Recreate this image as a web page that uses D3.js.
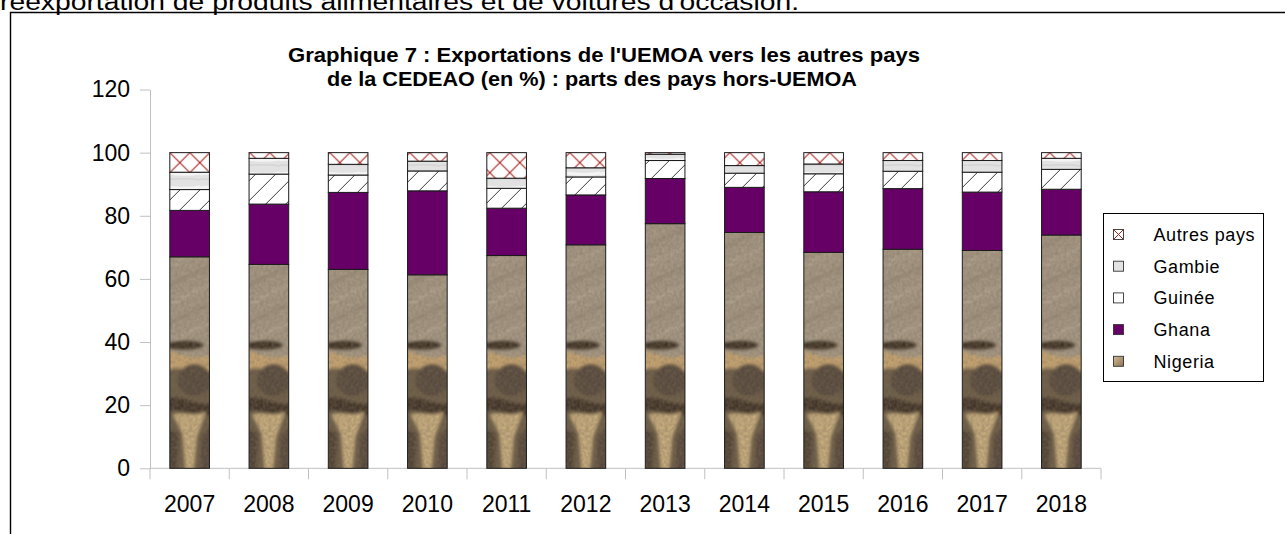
<!DOCTYPE html>
<html>
<head>
<meta charset="utf-8">
<script src="https://cdn.jsdelivr.net/npm/d3@7/dist/d3.min.js"></script>
<style>
    html, body { margin: 0; padding: 0; background: #fff; }
    svg { display: block; font-family: 'Liberation Sans', Arial, sans-serif; }
</style>
</head>
<body>
<svg id="chart" width="1285" height="534"></svg>
<script>
'use strict';

var years = ['2007', '2008', '2009', '2010', '2011', '2012',
    '2013', '2014', '2015', '2016', '2017', '2018'];

var nigeria = [67.0, 64.6, 63.0, 61.3, 67.4, 70.8, 77.5, 74.7, 68.4, 69.4, 69.0, 73.9],
    ghana = [14.7, 19.1, 24.4, 26.6, 15.0, 15.8, 14.3, 14.3, 19.2, 19.2, 18.5, 14.5],
    guinee = [6.6, 9.5, 5.5, 6.3, 6.3, 5.7, 5.7, 4.5, 5.7, 5.5, 6.3, 6.3],
    gambie = [5.5, 5.0, 3.4, 3.1, 3.2, 2.9, 2.0, 2.4, 3.1, 3.4, 3.7, 3.5],
    autres = [6.2, 1.8, 3.7, 2.7, 8.1, 4.8, 0.5, 4.1, 3.6, 2.5, 2.5, 1.8];

var seriesNames = ['Nigeria', 'Ghana', 'Guinée', 'Gambie', 'Autres pays'];
var yTicks = [0, 20, 40, 60, 80, 100, 120];

var titleLines = [
    'Graphique 7 : Exportations de l\'UEMOA vers les autres pays',
    'de la CEDEAO (en %) : parts des pays hors-UEMOA'
];
var headText = 'réexportation de produits alimentaires et de voitures d\'occasion.';

var table = years.map(function(yr, i) {
    return {
        year: yr,
        'Nigeria': nigeria[i],
        'Ghana': ghana[i],
        'Guinée': guinee[i],
        'Gambie': gambie[i],
        'Autres pays': autres[i]
    };
});

var svg = d3.select('#chart'),
    AXIS_GRAY = '#c0c0c0';

var x = d3.scaleBand()
    .domain(years)
    .range([150, 1101])
    .paddingInner(0.5)
    .paddingOuter(0.25);

var y = d3.scaleLinear()
    .domain([0, 120])
    .range([468.3, 89.5]);

var stacked = d3.stack().keys(seriesNames)(table);

// fills -----------------------------------------------------------------
var defs = svg.append('defs');

defs.append('filter')
    .attr('id', 'noise')
    .attr('x', 0).attr('y', 0).attr('width', 1).attr('height', 1)
    .call(function(f) {
        f.append('feTurbulence')
            .attr('type', 'fractalNoise')
            .attr('baseFrequency', 0.35)
            .attr('numOctaves', 2)
            .attr('seed', 4);
        f.append('feColorMatrix')
            .attr('type', 'matrix')
            .attr('values', '0 0 0 0 0.2  0 0 0 0 0.16  0 0 0 0 0.1  0 0 0 -1.4 1.05');
    });

defs.append('filter')
    .attr('id', 'soft')
    .append('feGaussianBlur')
        .attr('stdDeviation', 1.6);

var bw = x.bandwidth(),
    tileTop = y(100),
    tileH = y(0) - y(100);

function ty(v) { return y(v) - tileTop; }

// Nigeria: stone / sand texture, one tile per category step
var nig = defs.append('pattern')
    .attr('id', 'fill-nigeria')
    .attr('patternUnits', 'userSpaceOnUse')
    .attr('x', x(years[0]))
    .attr('y', tileTop)
    .attr('width', x.step())
    .attr('height', tileH);

nig.append('rect').attr('width', bw).attr('height', tileH).attr('fill', '#a69885');

var nigShapes = nig.append('g').attr('filter', 'url(#soft)');

// diagonal streaks of the upper part
[44, 50, 56, 62, 68, 74].forEach(function(v, k) {
    nigShapes.append('path')
        .attr('d', 'M0,' + ty(v - 4) + 'L' + bw + ',' + ty(v + 2))
        .attr('stroke', k % 2 ? '#8f8170' : '#bcae98')
        .attr('stroke-width', 3)
        .attr('opacity', 0.6);
});

nigShapes.append('path')
    .attr('d', 'M-4,' + ty(33) + 'L' + (bw + 4) + ',' + ty(33) + 'L' + (bw + 4) + ',' + (tileH + 4) + 'L-4,' + (tileH + 4) + 'Z')
    .attr('fill', '#6b5a45');

nigShapes.append('path')
    .attr('d', 'M-4,' + ty(37.5) + 'C' + bw * 0.3 + ',' + ty(36) + ' ' + bw * 0.6 + ',' + ty(34) + ' ' + (bw + 4) + ',' + ty(36) +
        'L' + (bw + 4) + ',' + ty(31) + 'C' + bw * 0.6 + ',' + ty(29.5) + ' ' + bw * 0.3 + ',' + ty(33) + ' -4,' + ty(31) + 'Z')
    .attr('fill', '#c9a572');

nigShapes.append('ellipse')
    .attr('cx', bw * 0.35).attr('cy', ty(39))
    .attr('rx', bw * 0.5).attr('ry', 4.5)
    .attr('fill', '#3b2f22');

nigShapes.append('ellipse')
    .attr('cx', bw * 0.62).attr('cy', ty(28))
    .attr('rx', bw * 0.42).attr('ry', 16)
    .attr('fill', '#54463a');

nigShapes.append('path')
    .attr('d', 'M-4,' + ty(22) + 'C' + bw * 0.3 + ',' + ty(24) + ' ' + bw * 0.7 + ',' + ty(19) + ' ' + (bw + 4) + ',' + ty(21) +
        'L' + (bw + 4) + ',' + ty(17) + 'C' + bw * 0.7 + ',' + ty(16) + ' ' + bw * 0.3 + ',' + ty(19) + ' -4,' + ty(18) + 'Z')
    .attr('fill', '#3f3327');

nigShapes.append('path')
    .attr('d', 'M' + bw * 0.08 + ',' + ty(17) + 'C' + bw * 0.35 + ',' + ty(18) + ' ' + bw * 0.6 + ',' + ty(16) + ' ' + bw * 0.92 + ',' + ty(18) +
        'L' + bw * 0.68 + ',' + ty(10) + 'L' + bw * 0.6 + ',' + (tileH + 4) + 'L' + bw * 0.4 + ',' + (tileH + 4) +
        'L' + bw * 0.32 + ',' + ty(11) + 'Z')
    .attr('fill', '#c9ad7e');

nigShapes.append('path')
    .attr('d', 'M-4,' + ty(13) + 'L' + bw * 0.22 + ',' + ty(11) + 'L' + bw * 0.18 + ',' + (tileH + 4) + 'L-4,' + (tileH + 4) + 'Z')
    .attr('fill', '#4e4032');

nigShapes.append('path')
    .attr('d', 'M' + (bw + 4) + ',' + ty(14) + 'L' + bw * 0.8 + ',' + ty(10) + 'L' + bw * 0.78 + ',' + (tileH + 4) + 'L' + (bw + 4) + ',' + (tileH + 4) + 'Z')
    .attr('fill', '#54453a');

nig.append('rect')
    .attr('width', bw).attr('height', tileH)
    .attr('filter', 'url(#noise)')
    .attr('opacity', 0.6);

// Gambie: pale marble
var gam = defs.append('pattern')
    .attr('id', 'fill-gambie')
    .attr('patternUnits', 'userSpaceOnUse')
    .attr('width', 40).attr('height', 14);

gam.append('rect').attr('width', 40).attr('height', 14).attr('fill', '#e2e2e2');
gam.append('path')
    .attr('d', 'M0,6C10,3 20,9 40,5')
    .attr('stroke', '#f4f4f4').attr('stroke-width', 3).attr('fill', 'none');
gam.append('path')
    .attr('d', 'M0,11C12,12 25,9 40,12')
    .attr('stroke', '#d5d5d5').attr('stroke-width', 1.5).attr('fill', 'none');

// Guinée: forward diagonal hatch
var gui = defs.append('pattern')
    .attr('id', 'fill-guinee')
    .attr('patternUnits', 'userSpaceOnUse')
    .attr('x', x(years[0]))
    .attr('width', 20).attr('height', 20);

gui.append('rect').attr('width', 20).attr('height', 20).attr('fill', '#fff');
gui.append('path')
    .attr('d', 'M-1,21L21,-1')
    .attr('stroke', '#222').attr('stroke-width', 0.9);

// Autres pays: red diagonal cross hatch
var aut = defs.append('pattern')
    .attr('id', 'fill-autres')
    .attr('patternUnits', 'userSpaceOnUse')
    .attr('x', x(years[0]))
    .attr('y', tileTop)
    .attr('width', 20).attr('height', 20);

aut.append('rect').attr('width', 20).attr('height', 20).attr('fill', '#fff');
aut.append('path')
    .attr('d', 'M0,0L20,20M20,0L0,20')
    .attr('stroke', '#a52420').attr('stroke-width', 1.1);

var legGrad = defs.append('linearGradient')
    .attr('id', 'leg-nigeria')
    .attr('x1', 0).attr('y1', 0).attr('x2', 1).attr('y2', 1);
legGrad.append('stop').attr('offset', 0).attr('stop-color', '#d6bc92');
legGrad.append('stop').attr('offset', 1).attr('stop-color', '#8a7256');

var fills = {
    'Nigeria': 'url(#fill-nigeria)',
    'Ghana': '#660066',
    'Guinée': 'url(#fill-guinee)',
    'Gambie': 'url(#fill-gambie)',
    'Autres pays': 'url(#fill-autres)'
};

// frame and head text ----------------------------------------------------
svg.append('rect')
    .attr('width', 1285).attr('height', 534)
    .attr('fill', '#fff');

svg.append('text')
    .attr('x', 0)
    .attr('y', 10)
    .attr('font-size', 23)
    .attr('textLength', 799)
    .attr('lengthAdjust', 'spacingAndGlyphs')
    .text(headText);

svg.append('path')
    .attr('d', 'M10.5,545V12.5H1290')
    .attr('fill', 'none')
    .attr('stroke', '#000')
    .attr('stroke-width', 1.4);

// title
var titleSpec = [
    {x: 604, y: 62, len: 632},
    {x: 592, y: 86, len: 530}
];

svg.append('g')
    .selectAll('text')
    .data(titleLines)
    .enter().append('text')
        .attr('x', function(d, i) { return titleSpec[i].x; })
        .attr('y', function(d, i) { return titleSpec[i].y; })
        .attr('text-anchor', 'middle')
        .attr('font-size', 21)
        .attr('font-weight', 'bold')
        .attr('textLength', function(d, i) { return titleSpec[i].len; })
        .attr('lengthAdjust', 'spacingAndGlyphs')
        .text(function(d) { return d; });

// axes -------------------------------------------------------------------
var yAxis = svg.append('g')
    .attr('transform', 'translate(' + x.range()[0] + ',0)')
    .call(d3.axisLeft(y)
        .tickValues(yTicks)
        .tickSize(10)
        .tickSizeOuter(0)
        .tickPadding(10));

yAxis.selectAll('path, line').attr('stroke', AXIS_GRAY);
yAxis.selectAll('text')
    .attr('font-size', 23)
    .attr('font-family', 'Liberation Sans, Arial, sans-serif')
    .attr('fill', '#000');

var xAxis = svg.append('g');

xAxis.append('line')
    .attr('x1', x.range()[0]).attr('x2', x.range()[1])
    .attr('y1', y(0)).attr('y2', y(0))
    .attr('stroke', AXIS_GRAY);

var bounds = years.map(function(yr) { return x(yr) - x.step() * x.paddingInner() / 2; });
bounds.push(x.range()[1]);

xAxis.selectAll('line.tick')
    .data(bounds)
    .enter().append('line')
        .attr('class', 'tick')
        .attr('x1', function(d) { return d; })
        .attr('x2', function(d) { return d; })
        .attr('y1', y(0))
        .attr('y2', y(0) + 11)
        .attr('stroke', AXIS_GRAY);

xAxis.selectAll('text')
    .data(years)
    .enter().append('text')
        .attr('x', function(d) { return x(d) + bw / 2; })
        .attr('y', 511.5)
        .attr('text-anchor', 'middle')
        .attr('font-size', 23)
        .text(function(d) { return d; });

// bars -------------------------------------------------------------------
var layers = svg.append('g')
    .selectAll('g.layer')
    .data(stacked)
    .enter().append('g')
        .attr('class', 'layer');

layers.selectAll('rect')
    .data(function(layer) {
        return layer.map(function(d) { return {key: layer.key, lo: d[0], hi: d[1], year: d.data.year}; });
    })
    .enter().append('rect')
        .attr('x', function(d) { return x(d.year); })
        .attr('y', function(d) { return y(d.hi); })
        .attr('width', bw)
        .attr('height', function(d) { return y(d.lo) - y(d.hi); })
        .attr('fill', function(d) { return fills[d.key]; })
        .attr('stroke', '#1a1a1a')
        .attr('stroke-width', 1);

// legend -----------------------------------------------------------------
var legend = svg.append('g')
    .attr('transform', 'translate(1103.5,213.5)');

legend.append('rect')
    .attr('width', 160)
    .attr('height', 168)
    .attr('fill', '#fff')
    .attr('stroke', '#000');

var legendOrder = seriesNames.slice().reverse();

var items = legend.selectAll('g.item')
    .data(legendOrder)
    .enter().append('g')
        .attr('class', 'item')
        .attr('transform', function(d, i) { return 'translate(0,' + (21 + i * 31.7) + ')'; });

var swatchFill = {
    'Nigeria': 'url(#leg-nigeria)',
    'Ghana': '#660066',
    'Guinée': '#fff',
    'Gambie': '#e2e2e2',
    'Autres pays': '#fff'
};

items.append('rect')
    .attr('x', 10)
    .attr('y', -5)
    .attr('width', 10)
    .attr('height', 10)
    .attr('fill', function(d) { return swatchFill[d]; })
    .attr('stroke', '#333')
    .attr('stroke-width', 0.9);

items.filter(function(d) { return d === 'Autres pays'; })
    .append('path')
        .attr('d', 'M10,-5L20,5M20,-5L10,5')
        .attr('stroke', '#a52420')
        .attr('stroke-width', 1);

items.append('text')
    .attr('x', 50)
    .attr('y', 0)
    .attr('dy', '0.35em')
    .attr('font-size', 18)
    .attr('letter-spacing', 0.6)
    .text(function(d) { return d; });
</script>
</body>
</html>
